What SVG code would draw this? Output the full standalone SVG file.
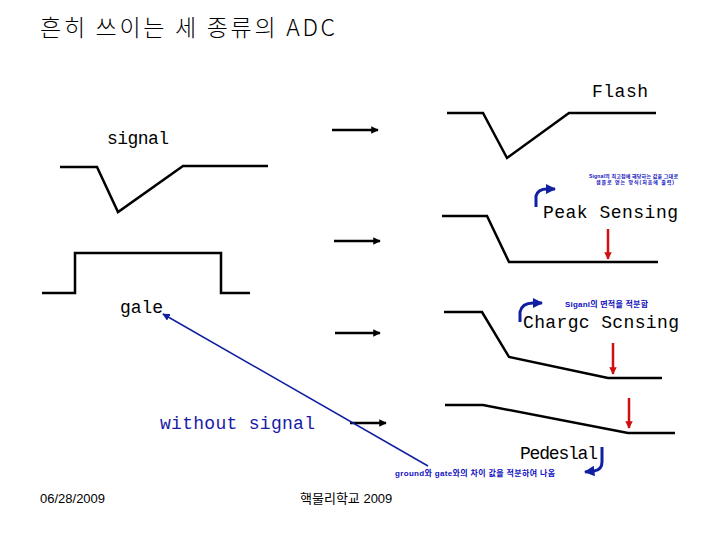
<svg xmlns="http://www.w3.org/2000/svg" width="720" height="540" viewBox="0 0 720 540">
<style>
.wave{fill:none;stroke:#000;stroke-width:2.5;stroke-linejoin:miter}
.conn{fill:none;stroke:#000;stroke-width:2.5}
.red{fill:none;stroke:#d01010;stroke-width:2.5}
.blue{fill:none;stroke:#1020a0;stroke-width:3}
.lbl{font-family:"Liberation Mono","DejaVu Sans Mono","Noto Sans CJK KR",monospace;font-size:18px;fill:#000}
.note{font-family:"Liberation Sans","Noto Sans CJK KR",sans-serif;font-size:8px;fill:#1010c0;font-weight:bold}
.tiny{font-family:"Liberation Sans","Noto Sans CJK KR",sans-serif;font-size:5px;fill:#1010c0;font-weight:bold}
.foot{font-family:"Liberation Sans","Noto Sans CJK KR",sans-serif;font-size:13px;fill:#000}
</style>
<defs>
<marker id="ah" viewBox="0 0 10 10" refX="9" refY="5" markerWidth="3" markerHeight="3" orient="auto" markerUnits="strokeWidth"><path d="M0,0 L10,5 L0,10 z" fill="#000"/></marker>
<marker id="rah" viewBox="0 0 10 10" refX="9" refY="5" markerWidth="3.5" markerHeight="3" orient="auto" markerUnits="strokeWidth"><path d="M0,0 L10,5 L0,10 z" fill="#d01010"/></marker>
<marker id="bah" viewBox="0 0 10 10" refX="9" refY="5" markerWidth="3.5" markerHeight="4" orient="auto" markerUnits="strokeWidth"><path d="M0,0 L10,5 L0,10 z" fill="#1020a0"/></marker>
<marker id="bah2" viewBox="0 0 10 10" refX="9" refY="5" markerWidth="5" markerHeight="5" orient="auto" markerUnits="strokeWidth"><path d="M0,0 L10,5 L0,10 z" fill="#1020a0"/></marker>
</defs>

<text x="40" y="36" font-family="'Noto Sans CJK KR','Liberation Sans',sans-serif" font-size="23" font-weight="300" textLength="295" fill="#000">흔히 쓰이는 세 종류의 ADC</text>

<g id="signal">
<text class="lbl" x="107" y="144" textLength="62">signal</text>
<polyline class="wave" points="60,167 97,167 118,212 183,166 268,166"/>
</g>

<g id="gate">
<polyline class="wave" points="42,293 75,293 75,253 221,253 221,293 250,293"/>
<text class="lbl" x="120" y="313" textLength="43">gale</text>
</g>

<g id="without-signal">
<text class="lbl" x="160" y="429" textLength="155" style="fill:#1a1aa8">without signal</text>
</g>

<g id="flash">
<text class="lbl" x="592" y="97" textLength="56">Flash</text>
<polyline class="wave" points="447,113 483,113 507,158 569,113 656,113"/>
</g>

<g id="peak-sensing">
<text class="lbl" x="543" y="218" textLength="135">Peak Sensing</text>
<polyline class="wave" points="442,216 487,216 509,262 658,262"/>
<line class="red" x1="608" y1="229" x2="608" y2="259" marker-end="url(#rah)"/>
<path class="blue" d="M536,207 L536,196 Q538,189 547,189 L555,189" marker-end="url(#bah)"/>
<text class="tiny" x="589" y="178" textLength="89">Signal의 최고점에 해당하는 값을 그대로</text>
<text class="tiny" x="596" y="184" textLength="78">샘플로 얻는 방식(처음에 출력)</text>
</g>

<g id="charge-sensing">
<text class="lbl" x="523" y="328" textLength="156">Chargc Scnsing</text>
<text class="note" x="565" y="307" textLength="83">Siganl의 면적을 적분함</text>
<polyline class="wave" points="444,312 482,312 509,357 608,378 662,378"/>
<line class="red" x1="613" y1="343" x2="613" y2="374" marker-end="url(#rah)"/>
<path class="blue" d="M520,322 L520,312 Q522,303 533,303 L542,303" marker-end="url(#bah)"/>
</g>

<g id="pedestal">
<text class="lbl" x="520" y="459" textLength="78">Pedeslal</text>
<polyline class="wave" points="445,405 483,405 628,433 675,433"/>
<line class="red" x1="629" y1="398" x2="629" y2="428" marker-end="url(#rah)"/>
<path class="blue" d="M602,447 L602,462 Q602,470 594,471 L585,472" marker-end="url(#bah)"/>
<text class="note" x="395" y="476" textLength="160">ground와 gate와의 차이 값을 적분하여 나옴</text>
</g>

<g id="connectors">
<line class="conn" x1="332" y1="130" x2="378" y2="130" marker-end="url(#ah)"/>
<line class="conn" x1="334" y1="241" x2="380" y2="241" marker-end="url(#ah)"/>
<line class="conn" x1="335" y1="333" x2="380" y2="333" marker-end="url(#ah)"/>
<line class="conn" x1="350" y1="423" x2="386" y2="423" marker-end="url(#ah)"/>
<line x1="428" y1="466" x2="163" y2="314" stroke="#1020a0" stroke-width="1.5" marker-end="url(#bah2)"/>
</g>

<g id="footer">
<text class="foot" x="40" y="503">06/28/2009</text>
<text class="foot" x="300" y="503">핵물리학교 2009</text>
</g>
</svg>
